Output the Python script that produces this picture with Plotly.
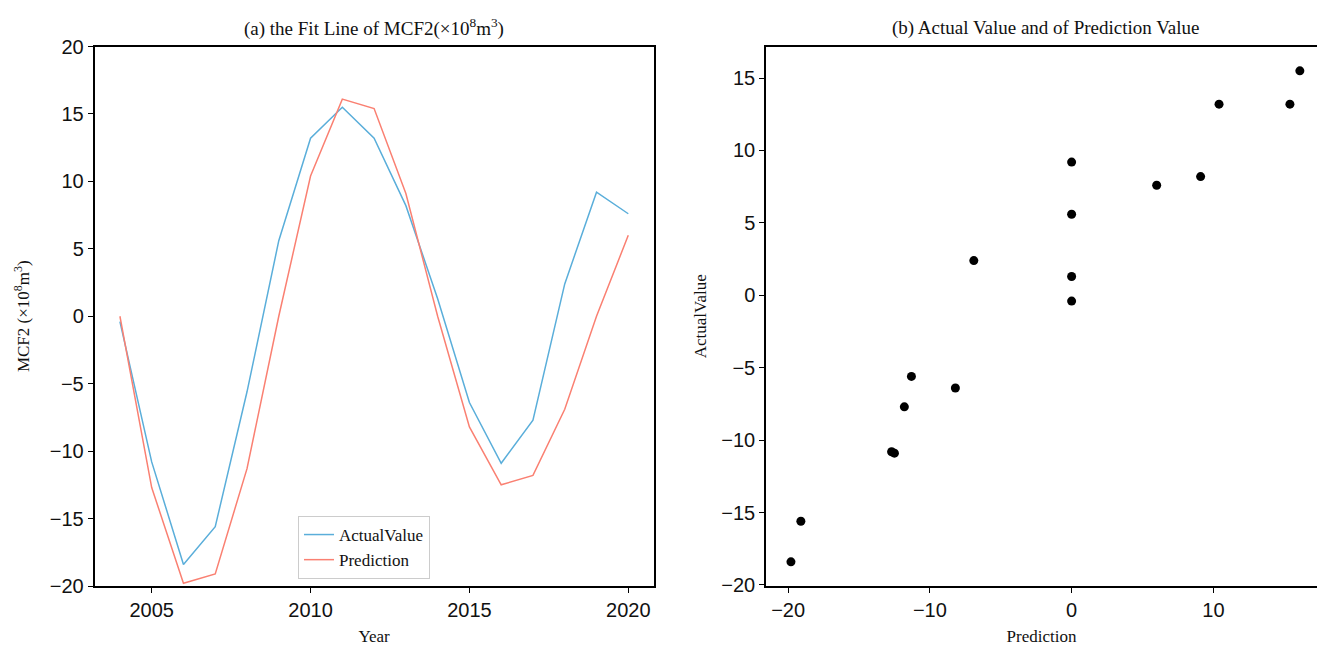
import plotly.graph_objects as go

# ---------------- data ----------------
years = [2004, 2005, 2006, 2007, 2008, 2009, 2010, 2011, 2012,
         2013, 2014, 2015, 2016, 2017, 2018, 2019, 2020]
actual = [-0.4, -10.8, -18.4, -15.6, -5.6, 5.6, 13.2, 15.5, 13.2,
          8.2, 1.3, -6.4, -10.9, -7.7, 2.4, 9.2, 7.6]
prediction = [0.0, -12.7, -19.8, -19.1, -11.3, 0.0, 10.4, 16.1, 15.4,
              9.1, 0.0, -8.2, -12.5, -11.8, -6.9, 0.0, 6.0]

left_yticks = [-20, -15, -10, -5, 0, 5, 10, 15, 20]
left_xticks = [2005, 2010, 2015, 2020]
right_xticks = [-20, -10, 0, 10]
right_yticks = [-20, -15, -10, -5, 0, 5, 10, 15]

title_a = "(a) the Fit Line of MCF2(×10<sup>8</sup>m<sup>3</sup>)"
title_b = "(b) Actual Value and of Prediction Value"

# ---------------- style ----------------
W, H = 1317, 648
SERIF = "Liberation Serif, Times New Roman, serif"
SANS = "Liberation Sans, Arial, sans-serif"
BLUE = "#5AAEDA"
RED = "#FA8072"

fig = go.Figure()
fig.add_trace(go.Scatter(x=years, y=actual, mode="lines", name="ActualValue",
                         line=dict(color=BLUE, width=1.5), xaxis="x", yaxis="y"))
fig.add_trace(go.Scatter(x=years, y=prediction, mode="lines", name="Prediction",
                         line=dict(color=RED, width=1.5), xaxis="x", yaxis="y"))
fig.add_trace(go.Scatter(x=prediction, y=actual, mode="markers", showlegend=False,
                         marker=dict(color="black", size=9),
                         xaxis="x2", yaxis="y2"))

common = dict(showgrid=False, zeroline=False, showline=True, linecolor="black",
              linewidth=1.5, ticks="outside", ticklen=5, tickwidth=1.2,
              tickcolor="black", automargin=False,
              tickfont=dict(family=SANS, size=20, color="#111"))

ydom = [1 - 586 / H, 1 - 46.5 / H]
tfont = dict(family=SERIF, size=17, color="#111")

fig.update_layout(
    width=W, height=H,
    margin=dict(l=0, r=0, t=0, b=0),
    paper_bgcolor="white", plot_bgcolor="white",
    xaxis=dict(domain=[94.5 / W, 653.7 / W], range=[2003.2, 2020.8],
               tickvals=left_xticks, mirror=True, anchor="y",
               title=dict(text="Year", font=tfont, standoff=10), **common),
    yaxis=dict(domain=ydom, range=[-20, 20], tickvals=left_yticks, mirror=True,
               anchor="x",
               title=dict(text="MCF2 (×10<sup>8</sup>m<sup>3</sup>)", font=tfont,
                          standoff=16),
               **common),
    xaxis2=dict(domain=[766 / W, 1.0], range=[-21.56, 17.31], tickvals=right_xticks,
                mirror=True, anchor="y2",
                title=dict(text="Prediction", font=tfont, standoff=10), **common),
    yaxis2=dict(domain=ydom, range=[-20.07, 17.18], tickvals=right_yticks,
                mirror=False, anchor="x2",
                title=dict(text="ActualValue", font=tfont, standoff=10), **common),
    legend=dict(x=298 / W, y=1 - 516 / H, xanchor="left", yanchor="top",
                bgcolor="white", bordercolor="#cccccc", borderwidth=1,
                font=dict(family=SERIF, size=17, color="#111"),
                tracegroupgap=0, itemwidth=30),
    annotations=[
        dict(text=title_a, x=374 / W, y=1 - 28 / H, xref="paper", yref="paper",
             xanchor="center", yanchor="middle",
             showarrow=False, font=dict(family=SERIF, size=19, color="#111")),
        dict(text=title_b, x=1045.5 / W, y=1 - 28 / H, xref="paper", yref="paper",
             xanchor="center", yanchor="middle",
             showarrow=False, font=dict(family=SERIF, size=19, color="#111")),
    ],
)

fig.write_html("out.html")
